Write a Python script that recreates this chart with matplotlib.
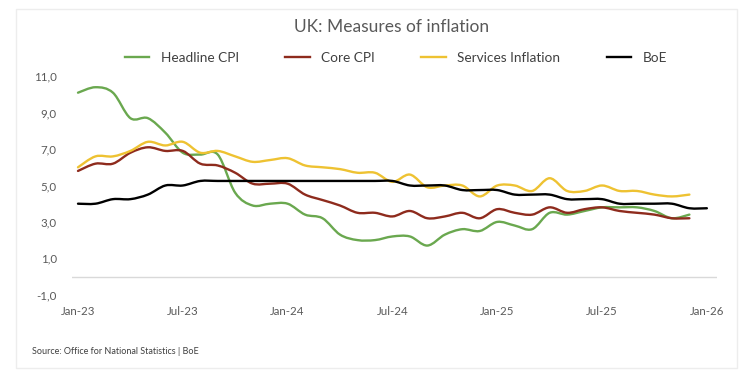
import numpy as np
import matplotlib.pyplot as plt
from matplotlib.path import Path
from matplotlib.patches import PathPatch, Rectangle
from matplotlib.lines import Line2D

plt.rcParams['font.family'] = ['Lato', 'DejaVu Sans']

# monthly data, Jan-23 .. Dec-25 (BoE runs to Jan-26)
headline_cpi = [10.1, 10.4, 10.1, 8.7, 8.7, 7.9, 6.8, 6.7, 6.7, 4.6, 3.9, 4.0,
                4.0, 3.4, 3.2, 2.3, 2.0, 2.0, 2.2, 2.2, 1.7, 2.3, 2.6, 2.5,
                3.0, 2.8, 2.6, 3.5, 3.4, 3.6, 3.8, 3.8, 3.8, 3.6, 3.2, 3.4]
core_cpi = [5.8, 6.2, 6.2, 6.8, 7.1, 6.9, 6.9, 6.2, 6.1, 5.7, 5.1, 5.1,
            5.1, 4.5, 4.2, 3.9, 3.5, 3.5, 3.3, 3.6, 3.2, 3.3, 3.5, 3.2,
            3.7, 3.5, 3.4, 3.8, 3.5, 3.7, 3.8, 3.6, 3.5, 3.4, 3.2, 3.2]
services = [6.0, 6.6, 6.6, 6.9, 7.4, 7.2, 7.4, 6.8, 6.9, 6.6, 6.3, 6.4,
            6.5, 6.1, 6.0, 5.9, 5.7, 5.7, 5.2, 5.6, 4.9, 5.0, 5.0, 4.4,
            5.0, 5.0, 4.7, 5.4, 4.7, 4.7, 5.0, 4.7, 4.7, 4.5, 4.4, 4.5]
boe_rate = [4.0, 4.0, 4.25, 4.25, 4.5, 5.0, 5.0] + [5.25] * 12 + [5.0] * 3 + \
           [4.75] * 3 + [4.5] * 3 + [4.25] * 3 + [4.0] * 4 + [3.75] * 2

series_names = ['Headline CPI', 'Core CPI', 'Services Inflation', 'BoE']
series_colors = ['#6aa84f', '#8e2b1d', '#eec232', '#000000']
tick_labels = ['Jan-23', 'Jul-23', 'Jan-24', 'Jul-24', 'Jan-25', 'Jul-25', 'Jan-26']


def smooth_path(x, y):
    # Excel-style smoothed line: bezier through every data point
    pts = np.column_stack([x, y]).astype(float)
    verts = [pts[0]]
    codes = [Path.MOVETO]
    n = len(pts)
    for i in range(n - 1):
        p0 = pts[i - 1] if i > 0 else pts[i]
        p1 = pts[i]
        p2 = pts[i + 1]
        p3 = pts[i + 2] if i + 2 < n else pts[i + 1]
        verts += [p1 + (p2 - p0) / 6, p2 - (p3 - p1) / 6, p2]
        codes += [Path.CURVE4] * 3
    return Path(verts, codes)


W, H = 755, 384
fig = plt.figure(figsize=(W / 100, H / 100), dpi=100)
fig.patches.append(Rectangle((16 / W, 1 - 368 / H), 721 / W, 359 / H,
                             transform=fig.transFigure, fill=False,
                             edgecolor='#ededed', lw=1))

ax = fig.add_axes([72 / W, 1 - 294.7 / H, 645 / W, 218.4 / H])
ax.axhline(0, color='#d9d9d9', lw=1, zorder=1)

handles = []
for vals, name, col in zip([headline_cpi, core_cpi, services, boe_rate],
                           series_names, series_colors):
    xs = np.arange(len(vals))
    ax.add_patch(PathPatch(smooth_path(xs, vals), fill=False, edgecolor=col,
                           lw=1.7, capstyle='round', joinstyle='round', zorder=3))
    handles.append(Line2D([], [], color=col, lw=1.7, label=name))

ax.set_xlim(-0.343, 36.58)
ax.set_ylim(-1, 11)
ax.set_xticks(range(0, 37, 6))
ax.set_xticklabels(tick_labels)
yt = np.arange(-1, 12, 2)
ax.set_yticks(yt)
ax.set_yticklabels([f'{v:.1f}'.replace('.', ',') for v in yt])
ax.tick_params(axis='both', length=0, labelsize=8.3, labelcolor='#595959')
ax.tick_params(axis='y', pad=11)
ax.tick_params(axis='x', pad=8)
for s in ax.spines.values():
    s.set_visible(False)

fig.text(392 / W, 1 - 27 / H, 'UK: Measures of inflation', ha='center', va='center',
         fontsize=12.5, color='#595959')
fig.legend(handles=handles, loc='center', bbox_to_anchor=(396 / W, 1 - 58 / H),
           ncol=4, frameon=False, fontsize=9.8, handlelength=1.8,
           handletextpad=0.85, columnspacing=3.4, labelcolor='#404040')
fig.text(32 / W, 1 - 351 / H, 'Source: Office for National Statistics | BoE',
         ha='left', va='center', fontsize=6.5, color='#404040')

fig.savefig('out.png', dpi=100, facecolor='white')
